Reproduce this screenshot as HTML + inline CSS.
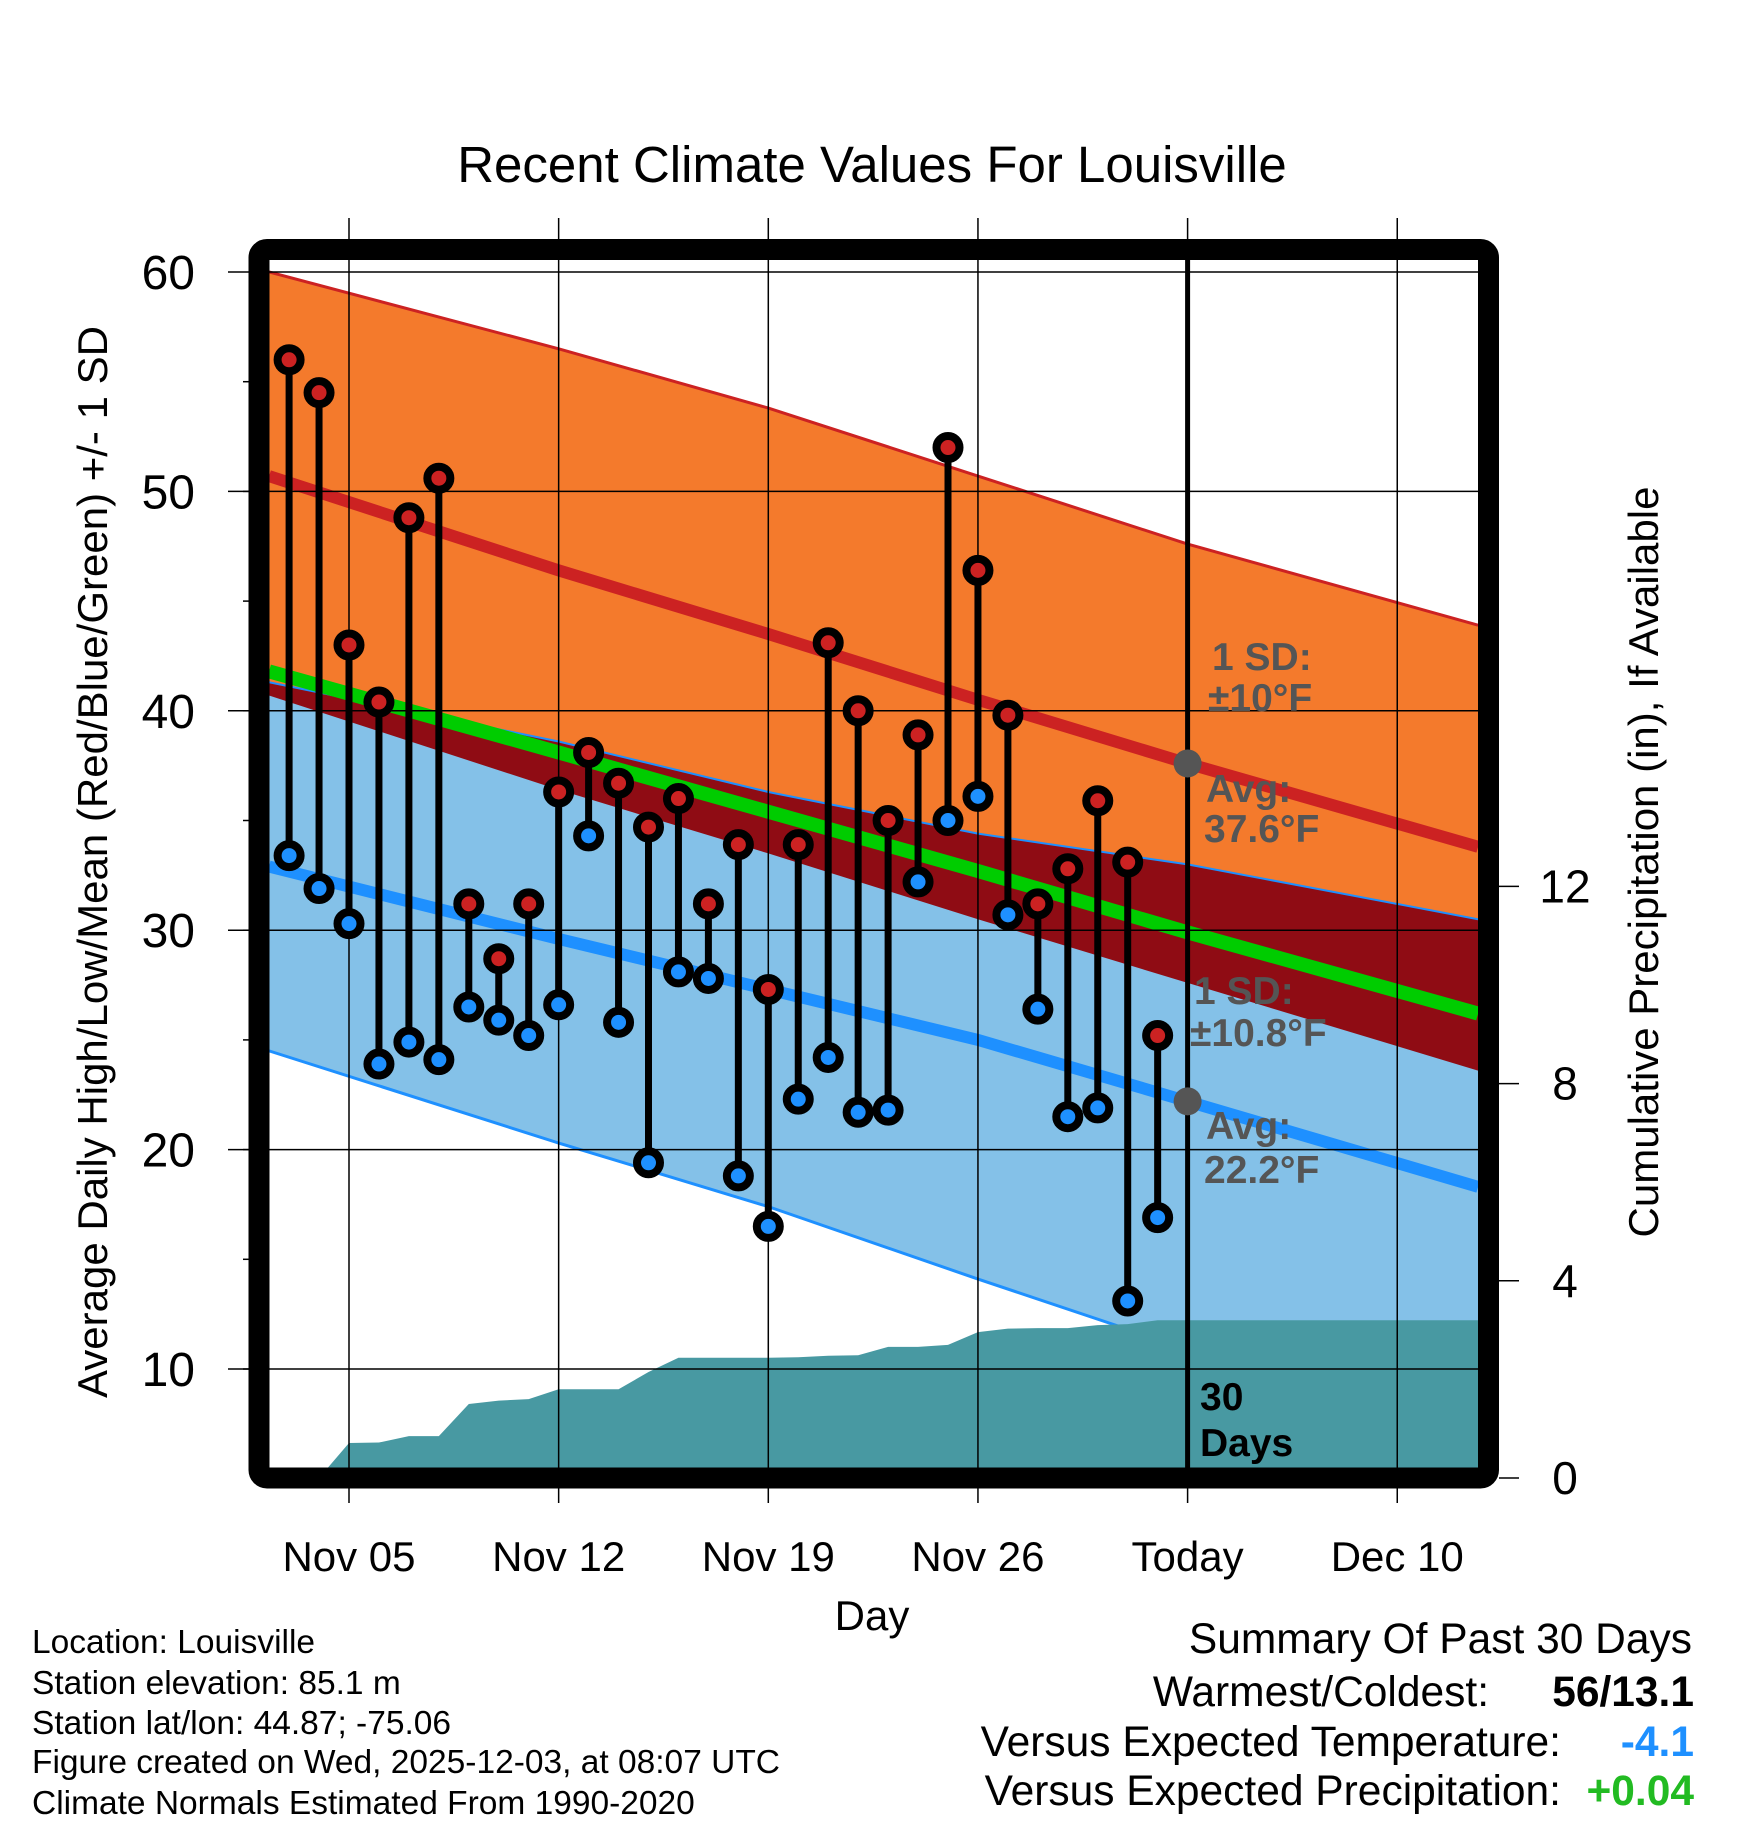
<!DOCTYPE html>
<html><head><meta charset="utf-8"><style>
html,body{margin:0;padding:0;background:#fff}
svg{display:block}
text{font-family:"Liberation Sans",sans-serif}
</style></head><body>
<svg id="chart" width="1748" height="1828" viewBox="0 0 1748 1828" xmlns="http://www.w3.org/2000/svg">
<defs><clipPath id="plotclip"><rect x="269" y="260" width="1209" height="1208"/></clipPath></defs>
<g id="bands" clip-path="url(#plotclip)"></g>
<g id="axes"></g>
<text x="872" y="182" font-size="51" text-anchor="middle">Recent Climate Values For Louisville</text>
<text x="872" y="1630" font-size="42" text-anchor="middle">Day</text>
<text transform="translate(107,862) rotate(-90)" font-size="42" text-anchor="middle">Average Daily High/Low/Mean (Red/Blue/Green) +/- 1 SD</text>
<text transform="translate(1658,862) rotate(-90)" font-size="42" text-anchor="middle">Cumulative Precipitation (in), If Available</text>
<g font-size="33.5">
<text x="32" y="1653">Location: Louisville</text>
<text x="32" y="1694">Station elevation: 85.1 m</text>
<text x="32" y="1734">Station lat/lon: 44.87; -75.06</text>
<text x="32" y="1773">Figure created on Wed, 2025-12-03, at 08:07 UTC</text>
<text x="32" y="1814">Climate Normals Estimated From 1990-2020</text>
</g>
<g font-size="42.5" text-anchor="end">
<text x="1692" y="1653">Summary Of Past 30 Days</text>
<text x="1489" y="1706">Warmest/Coldest:</text>
<text x="1694" y="1706" font-weight="bold">56/13.1</text>
<text x="1561" y="1756">Versus Expected Temperature:</text>
<text x="1694" y="1756" font-weight="bold" fill="#1E90FF">-4.1</text>
<text x="1561" y="1805">Versus Expected Precipitation:</text>
<text x="1694" y="1805" font-weight="bold" fill="#22BB22">+0.04</text>
</g>
<script>
const highs=[56,54.5,43,40.4,48.8,50.6,31.2,28.7,31.2,36.3,38.1,36.7,34.7,36,31.2,33.9,27.3,33.9,43.1,40,35,38.9,52,46.4,39.8,31.2,32.8,35.9,33.1,25.2];
const lows=[33.4,31.9,30.3,23.9,24.9,24.1,26.5,25.9,25.2,26.6,34.3,25.8,19.4,28.1,27.8,18.8,16.5,22.3,24.2,21.7,21.8,32.2,35,36.1,30.7,26.4,21.5,21.9,13.1,16.9];
const precip=[0,0,0.71,0.72,0.85,0.85,1.5,1.57,1.6,1.8,1.8,1.8,2.15,2.44,2.44,2.44,2.44,2.45,2.48,2.49,2.66,2.66,2.7,2.96,3.03,3.04,3.04,3.1,3.12,3.2];
const normDays=[-2.67,7,14,21,28,37.7];
const highPlusSD=[60,56.5,53.8,50.7,47.6,43.9];
const highAvg=[50.7,46.4,43.5,40.5,37.6,33.8];
const highMinusSD=[40.7,36.4,33.5,30.5,27.6,23.6];
const meanAvg=[41.8,38.1,35.4,32.7,29.9,26.2];
const lowPlusSD=[41.3,38.6,36.3,34.4,33,30.5];
const lowAvg=[32.9,29.6,27.3,25,22.2,18.3];
const lowMinusSD=[24.5,20.3,17.4,14.1,10.9,6.3];
const yTicks=[10,20,30,40,50,60];
const yMinor=[10,15,20,25,30,35,40,45,50,55];
const pTicks=[0,4,8,12];
const xTickDays=[0,7,14,21,28,35];
const xTickLabels=["Nov 05","Nov 12","Nov 19","Nov 26","Today","Dec 10"];
const firstDay=-2, leftDay=-2.67, rightDay=37.7, todayDay=28;

const NS="http://www.w3.org/2000/svg";
const X=d=>349+d*29.95;
const Y=v=>272+(60-v)*21.94;
const P=p=>1478-p*49.3;
function mk(tag,attrs,parent){const e=document.createElementNS(NS,tag);for(const k in attrs)e.setAttribute(k,attrs[k]);parent.appendChild(e);return e;}
const bands=document.getElementById('bands');
const axes=document.getElementById('axes');
const line=arr=>normDays.map((d,i)=>X(d)+','+Y(arr[i])).join(' ');
const band=(top,bot)=>line(top)+' '+normDays.map((d,i)=>X(d)+','+Y(bot[i])).reverse().join(' ');

let e;
e=mk('polygon',{points:band(highPlusSD,highMinusSD),fill:'#F47A2C'},bands);


e=mk('polygon',{points:band(lowPlusSD,lowMinusSD),fill:'#84C1E8'},bands);


const overlapBot=highMinusSD.map((v,i)=>Math.min(v,lowPlusSD[i]));
e=mk('polygon',{points:band(lowPlusSD,overlapBot),fill:'#8F0C14'},bands);


e=mk('polyline',{points:line(highPlusSD),fill:'none',stroke:'#CC2222','stroke-width':3},bands);


e=mk('polyline',{points:line(lowPlusSD),fill:'none',stroke:'#1E90FF','stroke-width':2},bands);


e=mk('polyline',{points:line(lowMinusSD),fill:'none',stroke:'#1E90FF','stroke-width':3},bands);


e=mk('polyline',{points:line(meanAvg),fill:'none',stroke:'#00CC00','stroke-width':14},bands);


e=mk('polyline',{points:line(highAvg),fill:'none',stroke:'#CC2222','stroke-width':12},bands);


e=mk('polyline',{points:line(lowAvg),fill:'none',stroke:'#1E90FF','stroke-width':12},bands);


// precip area
let pp=[X(leftDay)+',1478',X(leftDay)+','+P(0)];
precip.forEach((p,i)=>pp.push(X(firstDay+i)+','+P(p)));
pp.push(X(rightDay)+','+P(precip[precip.length-1]));
pp.push(X(rightDay)+',1478');
e=mk('polygon',{points:pp.join(' '),fill:'#4899A2'},bands);


// grid
yTicks.forEach(v=>{
  e=mk('line',{x1:228,x2:1478,y1:Y(v),y2:Y(v),stroke:'#000','stroke-width':1.5},axes);
  
  
  e=mk('text',{x:195,y:Y(v)+17,'font-size':48,'text-anchor':'end'},axes);
  e.textContent=v;
  
  
});
yMinor.forEach(v=>{
  e=mk('line',{x1:243,x2:250,y1:Y(v),y2:Y(v),stroke:'#000','stroke-width':1.5},axes);
  
  
});
xTickDays.forEach((d,i)=>{
  e=mk('line',{x1:X(d),x2:X(d),y1:218,y2:1503,stroke:'#000','stroke-width':1.5},axes);
  
  
  e=mk('text',{x:X(d),y:1571,'font-size':42,'text-anchor':'middle'},axes);
  e.textContent=xTickLabels[i];
  
  
});
pTicks.forEach(p=>{
  e=mk('line',{x1:1499,x2:1519,y1:P(p),y2:P(p),stroke:'#000','stroke-width':1.5},axes);
  
  
  e=mk('text',{x:1565,y:P(p)+16,'font-size':46,'text-anchor':'middle'},axes);
  e.textContent=p;
  
  
});
// today line
e=mk('line',{x1:X(todayDay),x2:X(todayDay),y1:255,y2:1478,stroke:'#000','stroke-width':5},axes);


const ti=normDays.indexOf(todayDay);
e=mk('circle',{cx:X(todayDay),cy:Y(highAvg[ti]),r:14,fill:'#555'},axes);


e=mk('circle',{cx:X(todayDay),cy:Y(lowAvg[ti]),r:14,fill:'#555'},axes);


// data stems
highs.forEach((h,i)=>{
  const x=X(firstDay+i);
  e=mk('line',{x1:x,x2:x,y1:Y(h),y2:Y(lows[i]),stroke:'#000','stroke-width':7},axes);
  
  
  e=mk('circle',{cx:x,cy:Y(lows[i]),r:11.5,fill:'#1E90FF',stroke:'#000','stroke-width':8},axes);
  
  
  e=mk('circle',{cx:x,cy:Y(h),r:11.5,fill:'#CC2222',stroke:'#000','stroke-width':8},axes);
  
  
});
// frame
e=mk('rect',{x:259,y:249.5,width:1229.5,height:1228.5,rx:8,fill:'none',stroke:'#000','stroke-width':21},axes);


// annotations
const ann=[["1 SD:",1212,670,'#555'],["±10°F",1208,711,'#555'],["Avg:",1206,802,'#555'],["37.6°F",1204,842,'#555'],
["1 SD:",1194,1004,'#555'],["±10.8°F",1190,1046,'#555'],["Avg:",1206,1139,'#555'],["22.2°F",1204,1183,'#555'],
["30",1200,1410,'#000'],["Days",1200,1456,'#000']];
ann.forEach(a=>{
  e=mk('text',{x:a[1],y:a[2],'font-size':39,'font-weight':'bold',fill:a[3]},axes);
  e.textContent=a[0];
  
  
});
</script>
</svg>
</body></html>
